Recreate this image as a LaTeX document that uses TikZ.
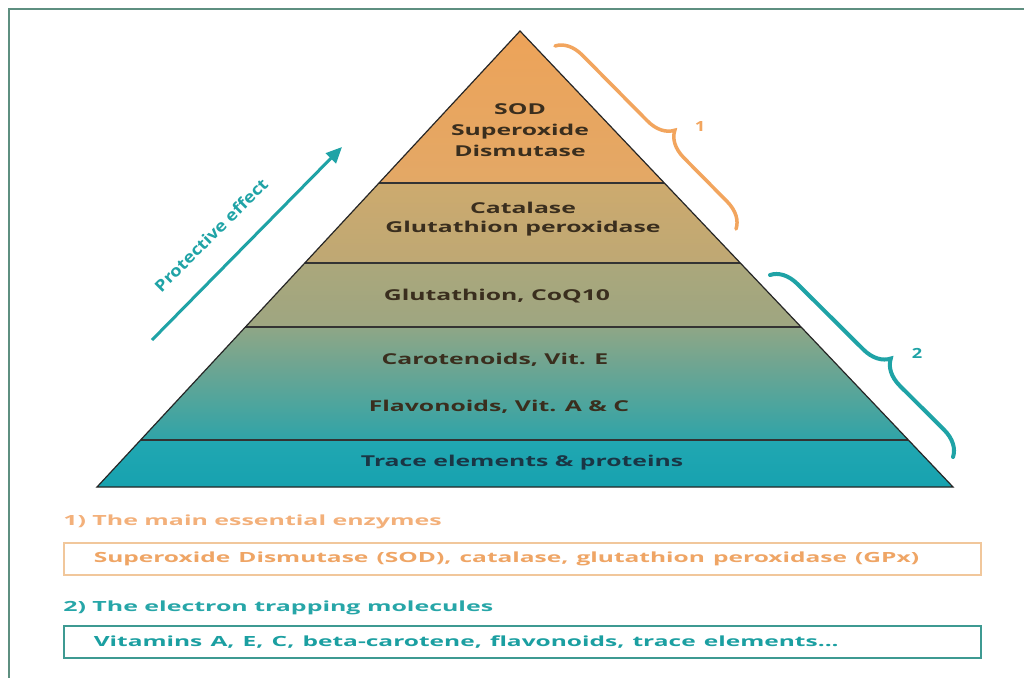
\documentclass[tikz,border=0pt]{standalone}
\usepackage{fontspec}
\setmainfont{Open Sans}
\usetikzlibrary{calc,decorations.pathreplacing,arrows.meta}
\definecolor{frame}{HTML}{5E8F80}
\definecolor{braceO}{HTML}{F2A55E}
\definecolor{tealA}{HTML}{1FA3A6}
\definecolor{b1t}{HTML}{EDA359}
\definecolor{b1b}{HTML}{E3A866}
\definecolor{b2t}{HTML}{CDAA6E}
\definecolor{b2b}{HTML}{BEA874}
\definecolor{b3t}{HTML}{ABA77B}
\definecolor{b3b}{HTML}{9EA681}
\definecolor{b4t}{HTML}{8FA686}
\definecolor{b4b}{HTML}{2FA4A8}
\definecolor{b5t}{HTML}{21A7B2}
\definecolor{b5b}{HTML}{17A2AF}
\definecolor{txtdark}{HTML}{3A2E1E}
\definecolor{txtbot}{HTML}{1A3645}
\definecolor{headO}{HTML}{F3B07A}
\definecolor{boxOtext}{HTML}{EFA565}
\definecolor{boxOborder}{HTML}{F1C79B}
\definecolor{headT}{HTML}{27A6A8}
\definecolor{boxTtext}{HTML}{1B9FA1}
\definecolor{boxTborder}{HTML}{3E9A92}
\tikzset{
  lbl/.style={font=\bfseries\fontsize{15}{21}\selectfont, text=txtdark, align=center, xscale=1.65, inner sep=0pt},
  sep/.style={draw=black!80, line width=1.8pt},
  edge/.style={draw=black!85, line width=1.2pt, line join=miter},
  bracestyle/.style={decorate, decoration={brace, amplitude=26pt, aspect=0.56}, line width=3.5pt, line cap=round},
  head/.style={font=\bfseries\fontsize{14}{16}\selectfont, anchor=west, inner sep=0pt, xscale=1.78},
  boxstyle/.style={anchor=west, line width=1.5pt, minimum height=32pt, text width=857pt, inner xsep=30pt, inner ysep=0pt, align=left, font=\bfseries\fontsize{14}{16}\selectfont},
}
\begin{document}
\begin{tikzpicture}[x=1pt,y=-1pt]
\useasboundingbox (0,0) rectangle (1024,678);
\fill[white] (0,0) rectangle (1024,678);
% frame
\draw[frame, line width=2pt] (1024,9) -- (9,9) -- (9,678);
% pyramid
\coordinate (A) at (520,31);
\coordinate (BL) at (97,487);
\coordinate (BR) at (953,487);
\coordinate (L1) at ($(A)!0.3333!(BL)$);
\coordinate (R1) at ($(A)!0.3333!(BR)$);
\coordinate (L2) at ($(A)!0.5088!(BL)$);
\coordinate (R2) at ($(A)!0.5088!(BR)$);
\coordinate (L3) at ($(A)!0.6491!(BL)$);
\coordinate (R3) at ($(A)!0.6491!(BR)$);
\coordinate (L4) at ($(A)!0.8969!(BL)$);
\coordinate (R4) at ($(A)!0.8969!(BR)$);
\shade[top color=b1t, bottom color=b1b] (A) -- (L1) -- (R1) -- cycle;
\shade[top color=b2t, bottom color=b2b] (L1) -- (L2) -- (R2) -- (R1) -- cycle;
\shade[top color=b3t, bottom color=b3b] (L2) -- (L3) -- (R3) -- (R2) -- cycle;
\shade[top color=b4t, bottom color=b4b] (L3) -- (L4) -- (R4) -- (R3) -- cycle;
\shade[top color=b5t, bottom color=b5b] (L4) -- (BL) -- (BR) -- (R4) -- cycle;
\draw[sep] (L1) -- (R1);
\draw[sep] (L2) -- (R2);
\draw[sep] (L3) -- (R3);
\draw[sep] (L4) -- (R4);
\draw[edge] (A) -- (BL) -- (BR) -- cycle;
% labels
\node[lbl] (sod) at (520,130) {SOD\\Superoxide\\Dismutase};
\node[lbl, font=\bfseries\fontsize{15}{19}\selectfont] (cat) at (523,219) {Catalase\\Glutathion peroxidase};
\node[lbl] (glu) at (497,296) {Glutathion, CoQ10};
\node[lbl] (car) at (495,360) {Carotenoids, Vit. E};
\node[lbl] (fla) at (499,407) {Flavonoids, Vit. A \& C};
\node[lbl, text=txtbot] (tra) at (522,463) {Trace elements \& proteins};
% protective effect arrow
\coordinate (a0) at (152,340);
\coordinate (a1) at (342,147);
\draw[tealA, line width=3pt, -{Triangle[length=16pt,width=14pt]}] (a0) -- (a1);
\node[text=tealA, font=\bfseries\fontsize{16}{18}\selectfont, rotate=45, xscale=1.15, inner sep=0pt] (pe) at (211,235) {Protective effect};
% braces
\coordinate (c1s) at (555,46);
\coordinate (c1e) at (736,229);
\draw[braceO, bracestyle] (c1s) -- (c1e);
\node[text=braceO, font=\bfseries\fontsize{14}{16}\selectfont, xscale=1.3] (n1) at (700,126) {1};
\coordinate (c2s) at (770,275);
\coordinate (c2e) at (953,457);
\draw[tealA, bracestyle, line width=4pt] (c2s) -- (c2e);
\node[text=tealA, font=\bfseries\fontsize{14}{16}\selectfont, xscale=1.3] (n2) at (917,353) {2};
% bottom legend
\node[head, text=headO] (h1) at (63,522) {1) The main essential enzymes};
\node[boxstyle, draw=boxOborder, text=boxOtext] (bx1) at (63,559) {\scalebox{1.75}[1]{Superoxide Dismutase (SOD), catalase, glutathion peroxidase (GPx)}};
\node[head, text=headT] (h2) at (63,608) {2) The electron trapping molecules};
\node[boxstyle, draw=boxTborder, text=boxTtext] (bx2) at (63,642) {\scalebox{1.75}[1]{Vitamins A, E, C, beta-carotene, flavonoids, trace elements...}};
\end{tikzpicture}
\end{document}
